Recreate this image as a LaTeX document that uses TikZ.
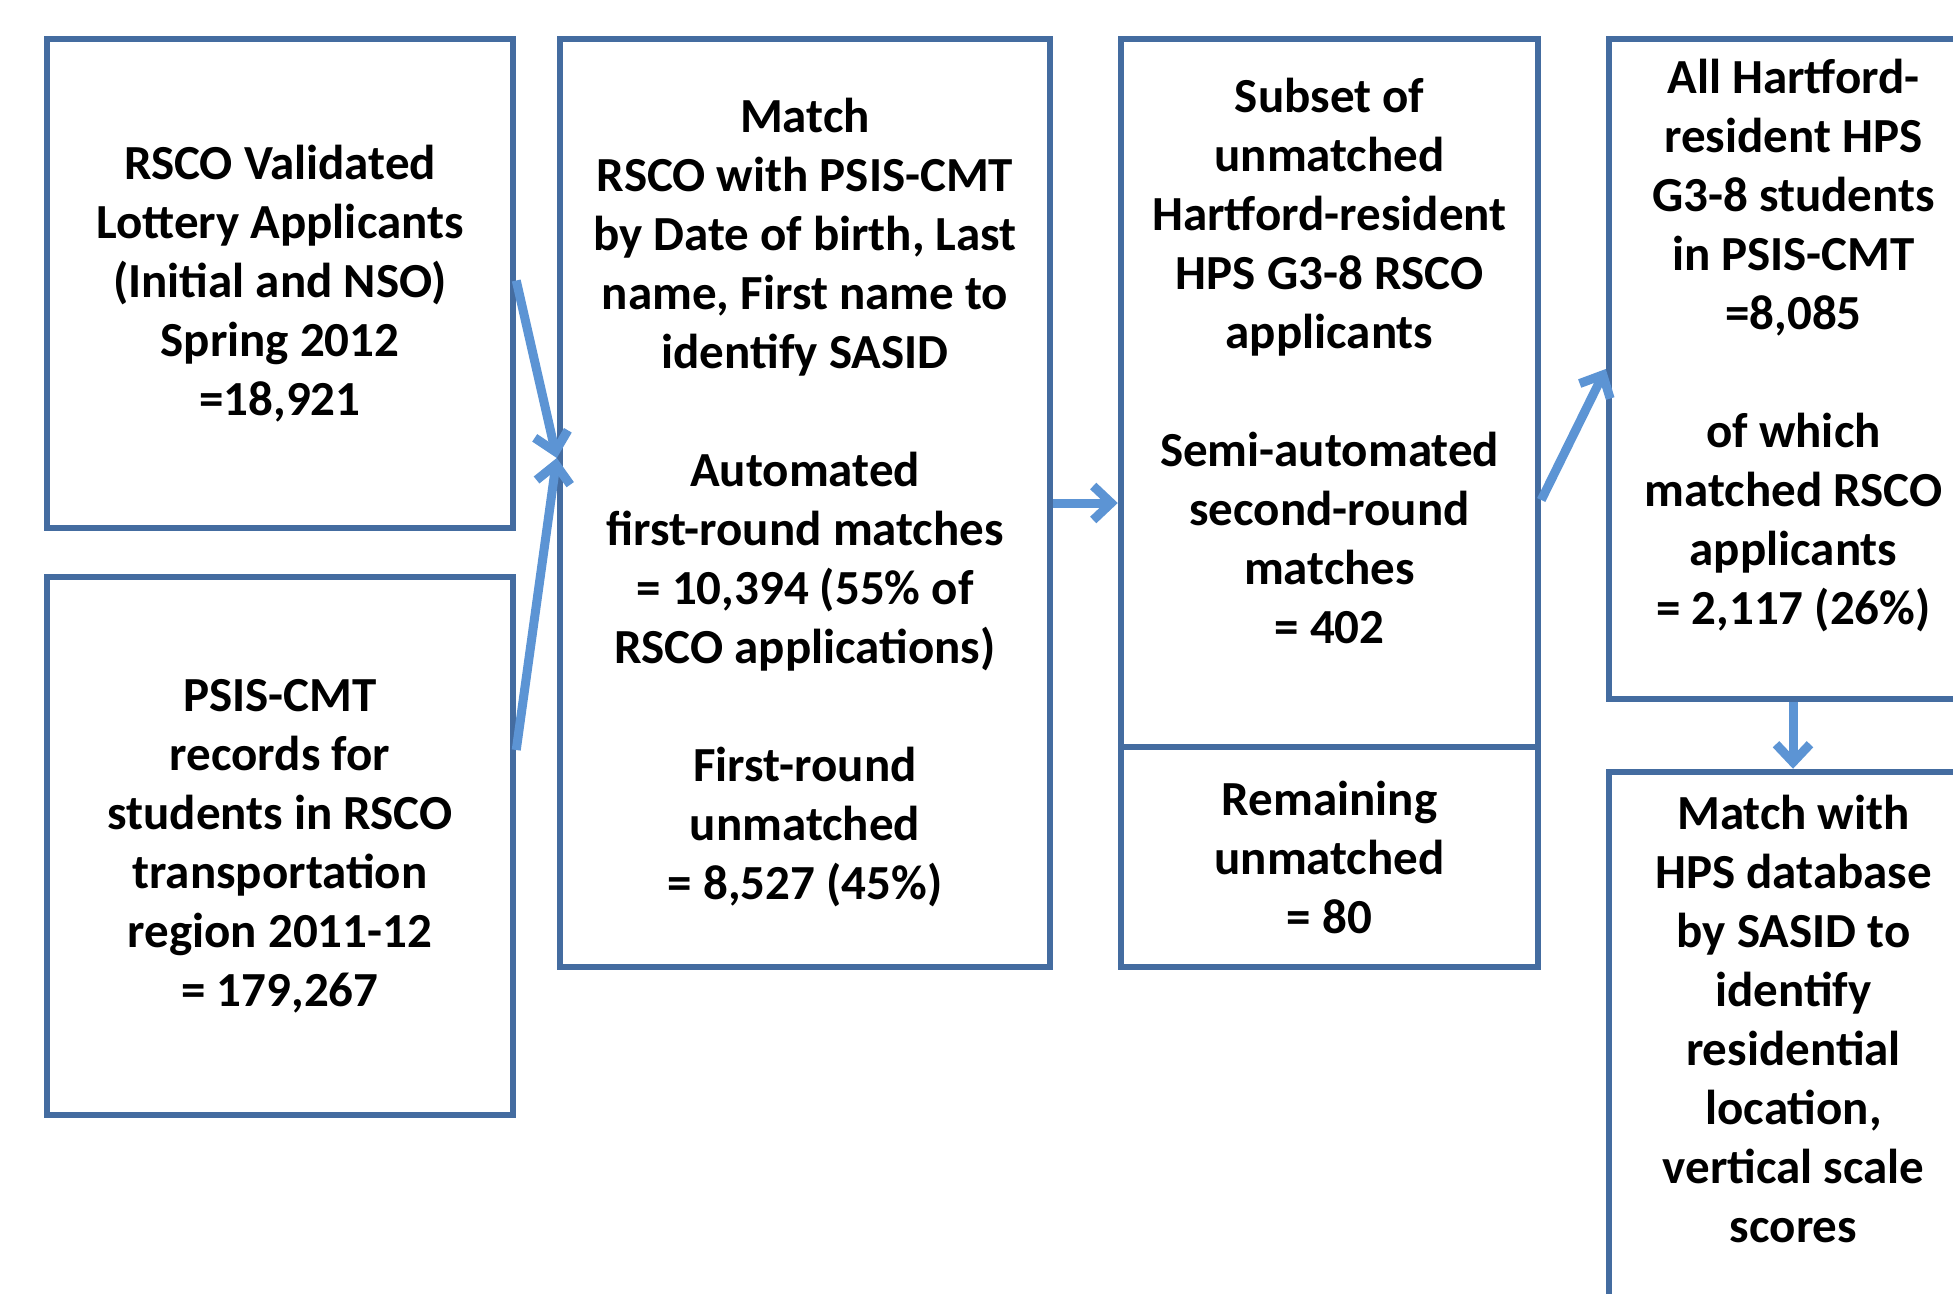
\documentclass[tikz,border=0pt]{standalone}
\usepackage{fontspec}
\setmainfont{Carlito}
\usepackage{xcolor}
\usetikzlibrary{arrows.meta}
\definecolor{boxblue}{RGB}{68,108,160}
\definecolor{arrowblue}{RGB}{92,148,212}

\begin{document}
\begin{tikzpicture}[x=1pt,y=-1pt,
	box/.style={draw=boxblue, line width=6.5pt, rectangle, inner sep=0pt},
	txt/.style={align=center, font=\bfseries\fontsize{49}{59}\selectfont, inner sep=0pt},
	flow/.style={arrowblue, line width=9pt, -{Straight Barb[length=18pt,width=34pt]}}]
	\useasboundingbox (0,0) rectangle (1953,1293);
	\clip (0,0) rectangle (1953,1293);
	% sources
	\node[box, txt, minimum width=466pt, minimum height=489pt] (lottery) at (280,283.5) {RSCO Validated\\Lottery Applicants\\(Initial and NSO)\\Spring 2012\\=18,921};
	\node[box, txt, minimum width=466pt, minimum height=538pt] (psis) at (280,846) {PSIS-CMT\\records for\\students in RSCO\\transportation\\region 2011-12\\= 179,267};
	% matching
	\node[box, txt, minimum width=490pt, minimum height=928pt] (match) at (805,503) {Match\\RSCO with PSIS-CMT\\by Date of birth, Last\\name, First name to\\identify SASID\\[59pt]Automated\\first-round matches\\= 10,394 (55\% of\\RSCO applications)\\[59pt]First-round\\unmatched\\= 8,527 (45\%)};
	\node[box, minimum width=417pt, minimum height=708pt] (subset) at (1329.5,393) {};
	\node[txt] (subset-t) at (1329.5,361) {Subset of\\unmatched\\Hartford-resident\\HPS G3-8 RSCO\\applicants\\[59pt]Semi-automated\\second-round\\matches\\= 402};
	\node[box, txt, minimum width=417pt, minimum height=220pt] (remain) at (1329.5,857) {Remaining\\unmatched\\= 80};
	% Hartford students
	\node[box, minimum width=368pt, minimum height=660pt] (hartford) at (1793,369) {};
	\node[txt] (hartford-t) at (1793.5,346) {All Hartford-\\resident HPS\\G3-8 students\\in PSIS-CMT\\=8,085\\[59pt]of which\\matched RSCO\\applicants\\= 2,117 (26\%)};
	\node[box, minimum width=368pt, minimum height=548pt] (hps) at (1793,1046) {};
	\node[txt] (hps-t) at (1793.5,1019) {Match with\\HPS database\\by SASID to\\identify\\residential\\location,\\vertical scale\\scores};
	% arrows
	\coordinate (in) at ([yshift=45pt]match.west);
	\draw[flow] ([yshift=3pt]lottery.east) -- (in);
	\draw[flow] ([yshift=96pt]psis.east) -- (in);
	\draw[flow] (match.east) -- (match.east -| subset.west);
	\draw[flow] ([yshift=-107pt]subset.east) -- (hartford.west);
	\draw[flow] (hartford.south) -- (hps.north);
\end{tikzpicture}
\end{document}
